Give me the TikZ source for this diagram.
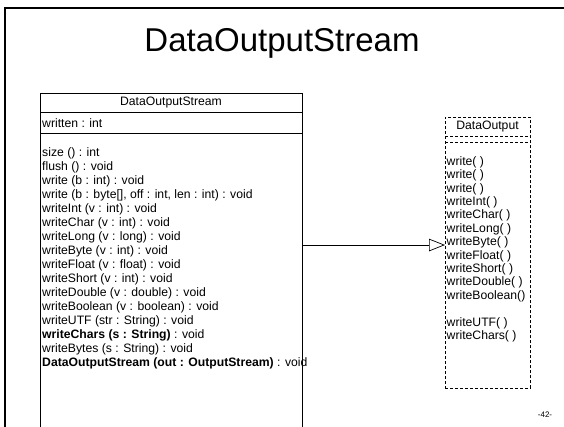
\documentclass[tikz,border=0pt]{standalone}
\usepackage{fontspec}
\setmainfont{Liberation Sans}
\usetikzlibrary{arrows.meta}
\begin{document}
\begin{tikzpicture}[x=1pt,y=-1pt,
  txt/.style={font=\fontsize{12.2}{14}\selectfont, inner sep=0pt},
  dsh/.style={dash pattern=on 3pt off 2pt, line width=0.7pt},
  solidbox/.style={draw, line width=0.7pt, inner sep=0pt}]
\useasboundingbox (0,0) rectangle (564,426);
% slide frame
\draw[line width=2.6pt] (5,440) -- (5,8) -- (580,8);
% title
\node[font=\fontsize{33}{36}\selectfont, inner sep=0pt] (title) at (282,43) {DataOutputStream};
% class box
\node[solidbox, minimum width=262pt, minimum height=350pt, anchor=north west] (cls) at (40,93) {};
\draw[line width=0.7pt] (40,112) -- (302,112);
\draw[line width=0.7pt] (40,133) -- (302,133);
\node[txt] (clsname) at (171,103) {DataOutputStream};
\node[txt, anchor=base west] (attr) at (42,127.3) {written : int};
\foreach \t [count=\i] in {
  {size () : int},
  {flush () : void},
  {write (b : int) : void},
  {write (b : byte[], off : int, len : int) : void},
  {writeInt (v : int) : void},
  {writeChar (v : int) : void},
  {writeLong (v : long) : void},
  {writeByte (v : int) : void},
  {writeFloat (v : float) : void},
  {writeShort (v : int) : void},
  {writeDouble (v : double) : void},
  {writeBoolean (v : boolean) : void},
  {writeUTF (str : String) : void},
  {\textbf{writeChars (s : String)} : void},
  {writeBytes (s : String) : void},
  {\textbf{DataOutputStream (out : OutputStream)} : void}}
  \node[txt, anchor=base west] (m\i) at (42,{156.3+14*(\i-1)}) {\t};
% interface box
\node[draw, dsh, minimum width=85pt, minimum height=271pt, anchor=north west, inner sep=0pt] (iface) at (445,117) {};
\draw[dsh] (445,136) -- (530,136);
\draw[dsh] (445,142) -- (530,142);
\node[txt] (ifname) at (487.5,127) {DataOutput};
\foreach \t [count=\i] in {
  {write( )}, {write( )}, {write( )}, {writeInt( )}, {writeChar( )},
  {writeLong( )}, {writeByte( )}, {writeFloat( )}, {writeShort( )},
  {writeDouble( )}, {writeBoolean()}}
  \node[txt, anchor=base west] (o\i) at (446.5,{165.3+13.4*(\i-1)}) {\t};
\node[txt, anchor=base west] (o12) at (446.5,{165.3+13.4*12}) {writeUTF( )};
\node[txt, anchor=base west] (o13) at (446.5,{165.3+13.4*13}) {writeChars( )};
% realization connector
\coordinate (j) at (302,245);
\draw[line width=0.7pt, -{Triangle[open, length=16pt, width=12.5pt, line width=0.7pt]}] (j) -- (iface.west |- j);
% page number
\node[font=\fontsize{8}{9}\selectfont, inner sep=0pt] (pg) at (545,415) {-42-};
\end{tikzpicture}
\end{document}
